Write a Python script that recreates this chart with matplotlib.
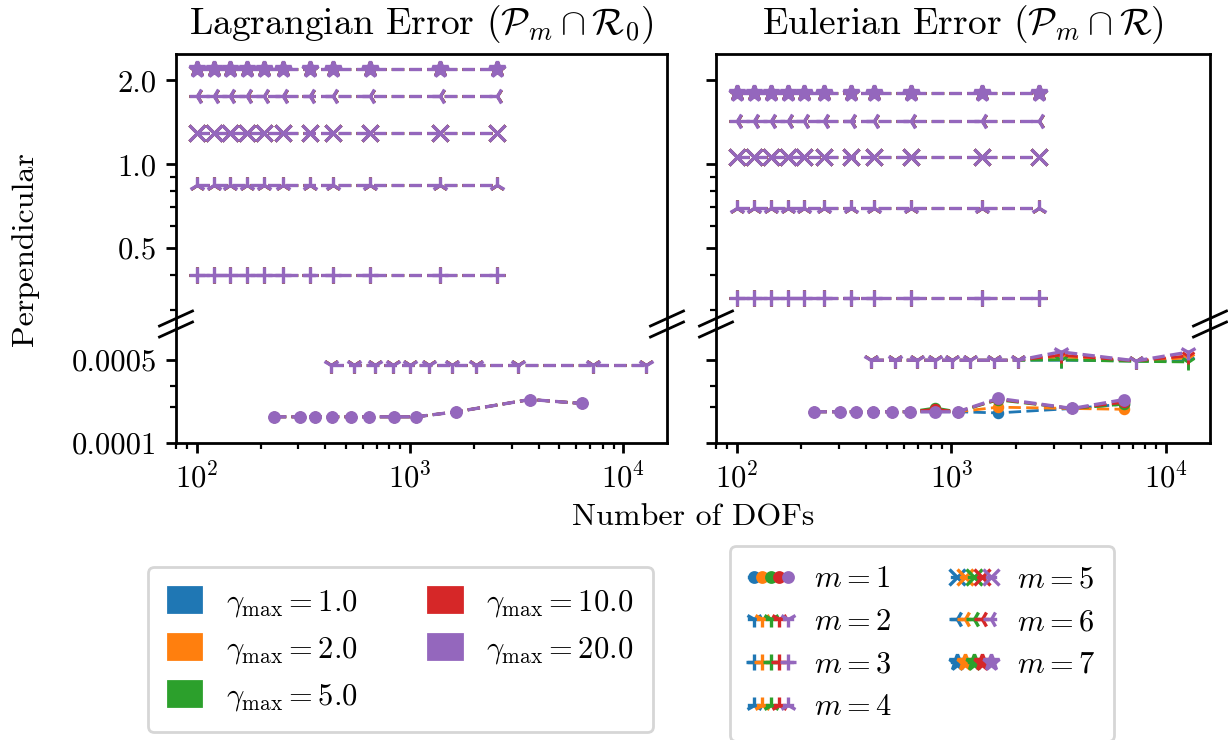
import matplotlib
matplotlib.use("Agg")
import matplotlib.pyplot as plt
from matplotlib.lines import Line2D
from matplotlib.patches import Patch
from matplotlib.legend_handler import HandlerTuple
from matplotlib.ticker import FixedLocator, FixedFormatter, NullFormatter

plt.rcParams.update({
    "font.family": "serif",
    "font.serif": ["cmr10"],
    "mathtext.fontset": "cm",
    "axes.formatter.use_mathtext": True,
    "axes.unicode_minus": False,
    "font.size": 11,
    "axes.linewidth": 1.0,
    "xtick.major.width": 1.0,
    "ytick.major.width": 1.0,
    "xtick.minor.width": 0.8,
    "ytick.minor.width": 0.8,
    "lines.scale_dashes": False,
})

# ---- data ---------------------------------------------------------------
gammas = [1.0, 2.0, 5.0, 10.0, 20.0]
gamma_colors = ["#1f77b4", "#ff7f0e", "#2ca02c", "#d62728", "#9467bd"]
m_values = [1, 2, 3, 4, 5, 6, 7]
m_markers = ["o", "1", "+", "2", "x", "3", "*"]
m_markersizes = [3.4, 6, 6, 6, 6, 6, 6]

dofs_m1 = [230, 304, 360, 432, 526, 640, 838, 1069, 1648, 3656, 6381]
dofs_m2 = [424, 545, 688, 836, 1002, 1222, 1573, 2043, 3222, 7230, 12700]
dofs_m3_to_m7 = [100, 120, 144, 173, 206, 255, 341, 437, 651, 1387, 2563]

# Lagrangian error (identical for every gamma_max)
lag_m1 = [1.66e-4, 1.66e-4, 1.66e-4, 1.66e-4, 1.66e-4, 1.66e-4, 1.66e-4,
          1.66e-4, 1.83e-4, 2.32e-4, 2.15e-4]
lag_m2 = [4.5e-4, 4.5e-4, 4.5e-4, 4.5e-4, 4.5e-4, 4.5e-4, 4.5e-4, 4.5e-4,
          4.5e-4, 4.5e-4, 4.5e-4]
lag_m3 = [0.40, 0.40, 0.40, 0.40, 0.40, 0.40, 0.40, 0.40, 0.40, 0.40, 0.40]
lag_m4 = [0.843, 0.843, 0.843, 0.843, 0.843, 0.843, 0.843, 0.843, 0.843, 0.843, 0.843]
lag_m5 = [1.30, 1.30, 1.30, 1.30, 1.30, 1.30, 1.30, 1.30, 1.30, 1.30, 1.30]
lag_m6 = [1.76, 1.76, 1.76, 1.76, 1.76, 1.76, 1.76, 1.76, 1.76, 1.76, 1.76]
lag_m7 = [2.20, 2.20, 2.20, 2.20, 2.20, 2.20, 2.20, 2.20, 2.20, 2.20, 2.20]

# Eulerian error, one row per gamma_max for the low-order cases
eul_m1 = [
    [1.83e-4, 1.83e-4, 1.83e-4, 1.83e-4, 1.83e-4, 1.83e-4, 1.83e-4, 1.83e-4, 1.79e-4, 1.95e-4, 2.12e-4],
    [1.83e-4, 1.83e-4, 1.83e-4, 1.83e-4, 1.83e-4, 1.83e-4, 1.85e-4, 1.83e-4, 2.00e-4, 1.95e-4, 1.92e-4],
    [1.83e-4, 1.83e-4, 1.83e-4, 1.83e-4, 1.83e-4, 1.83e-4, 1.97e-4, 1.83e-4, 2.30e-4, 1.95e-4, 2.12e-4],
    [1.83e-4, 1.83e-4, 1.83e-4, 1.83e-4, 1.83e-4, 1.83e-4, 1.92e-4, 1.83e-4, 2.33e-4, 1.95e-4, 2.20e-4],
    [1.83e-4, 1.83e-4, 1.83e-4, 1.83e-4, 1.83e-4, 1.83e-4, 1.83e-4, 1.83e-4, 2.37e-4, 1.95e-4, 2.32e-4],
]
eul_m2 = [
    [4.96e-4, 4.96e-4, 4.96e-4, 4.96e-4, 4.96e-4, 4.96e-4, 4.96e-4, 4.96e-4, 4.96e-4, 4.90e-4, 4.90e-4],
    [4.96e-4, 4.96e-4, 4.96e-4, 4.96e-4, 4.96e-4, 4.96e-4, 4.96e-4, 4.96e-4, 5.30e-4, 4.90e-4, 5.20e-4],
    [4.96e-4, 4.96e-4, 4.96e-4, 4.96e-4, 4.96e-4, 4.96e-4, 4.96e-4, 4.96e-4, 5.00e-4, 4.85e-4, 4.80e-4],
    [4.96e-4, 4.96e-4, 4.96e-4, 4.96e-4, 4.96e-4, 4.96e-4, 4.96e-4, 4.96e-4, 5.47e-4, 4.90e-4, 5.40e-4],
    [4.96e-4, 4.96e-4, 4.96e-4, 4.96e-4, 4.96e-4, 4.96e-4, 4.96e-4, 4.96e-4, 5.83e-4, 4.90e-4, 5.80e-4],
]
eul_m3 = [0.33, 0.33, 0.33, 0.33, 0.33, 0.33, 0.33, 0.33, 0.33, 0.33, 0.33]
eul_m4 = [0.695, 0.695, 0.695, 0.695, 0.695, 0.695, 0.695, 0.695, 0.695, 0.695, 0.695]
eul_m5 = [1.06, 1.06, 1.06, 1.06, 1.06, 1.06, 1.06, 1.06, 1.06, 1.06, 1.06]
eul_m6 = [1.43, 1.43, 1.43, 1.43, 1.43, 1.43, 1.43, 1.43, 1.43, 1.43, 1.43]
eul_m7 = [1.81, 1.81, 1.81, 1.81, 1.81, 1.81, 1.81, 1.81, 1.81, 1.81, 1.81]

panel_titles = [r"Lagrangian Error ($\mathcal{P}_m \cap \mathcal{R}_0$)",
                r"Eulerian Error ($\mathcal{P}_m \cap \mathcal{R}$)"]
top_ticks = [0.5, 1.0, 2.0]
top_ticklabels = ["0.5", "1.0", "2.0"]
bottom_ticks = [1e-4, 5e-4]
bottom_ticklabels = ["0.0001", "0.0005"]

# ---- figure -------------------------------------------------------------
W, H = 1228, 740
fig = plt.figure(figsize=(W / 200, H / 200), dpi=200)


def axes_px(x0, y0, x1, y1):
    return fig.add_axes([x0 / W, 1 - y1 / H, (x1 - x0) / W, (y1 - y0) / H])


y_top, y_join, y_bot = 54, 324, 443
columns = [(176, 667), (716, 1210)]

lag_high = [lag_m3, lag_m4, lag_m5, lag_m6, lag_m7]
eul_high = [eul_m3, eul_m4, eul_m5, eul_m6, eul_m7]

n_g = len(gammas)
dash = (0, (4.44, 1.92))  # fixed dash pattern in points, same for every width


def style(gi, k):
    # the last (largest gamma) series sits on top at full weight; the ones
    # underneath are a touch lighter so coincident curves stay clean
    top = gi == n_g - 1
    lw = 1.2 if top else 1.0
    scale = 1.0 if top else 0.92
    return dict(linestyle=dash, linewidth=lw, markeredgewidth=lw,
                marker=m_markers[k], ms=m_markersizes[k] * scale,
                color=gamma_colors[gi], zorder=2 + gi * 0.1)


for col, (x0, x1) in enumerate(columns):
    ax_t = axes_px(x0, y_top, x1, y_join)
    ax_b = axes_px(x0, y_join, x1, y_bot)

    for gi in range(n_g):
        if col == 0:
            s1, s2, high = lag_m1, lag_m2, lag_high
        else:
            s1, s2, high = eul_m1[gi], eul_m2[gi], eul_high
        ax_b.plot(dofs_m1, s1, **style(gi, 0))
        ax_b.plot(dofs_m2, s2, **style(gi, 1))
        for k, series in enumerate(high):
            ax_t.plot(dofs_m3_to_m7, series, **style(gi, k + 2))

    for ax in (ax_t, ax_b):
        ax.set_xscale("log")
        ax.set_yscale("log")
        ax.set_xlim(80, 16000)

    ax_t.set_ylim(0.267, 2.49)
    ax_b.set_ylim(1e-4, 1e-3)

    ax_t.spines["bottom"].set_visible(False)
    ax_b.spines["top"].set_visible(False)
    ax_t.tick_params(axis="x", which="both", bottom=False, top=False,
                     labelbottom=False)
    ax_b.tick_params(axis="x", which="both", top=False)

    ax_t.yaxis.set_major_locator(FixedLocator(top_ticks))
    ax_t.yaxis.set_minor_locator(FixedLocator([0.3, 0.4, 0.6, 0.7, 0.8, 0.9]))
    ax_b.yaxis.set_major_locator(FixedLocator(bottom_ticks))
    ax_b.yaxis.set_minor_locator(FixedLocator([2e-4, 3e-4]))
    for ax in (ax_t, ax_b):
        ax.yaxis.set_minor_formatter(NullFormatter())
    if col == 0:
        ax_t.yaxis.set_major_formatter(FixedFormatter(top_ticklabels))
        ax_b.yaxis.set_major_formatter(FixedFormatter(bottom_ticklabels))
    else:
        ax_t.yaxis.set_major_formatter(NullFormatter())
        ax_b.yaxis.set_major_formatter(NullFormatter())

    ax_t.set_title(panel_titles[col], fontsize=13.5, pad=7)

    # broken-axis marks on both vertical spines
    for xc in (x0, x1):
        for dy in (-5.5, 5.5):
            yc = y_join + dy
            fig.add_artist(Line2D([(xc - 16.5) / W, (xc + 16.5) / W],
                                  [1 - (yc + 7.5) / H, 1 - (yc - 7.5) / H],
                                  transform=fig.transFigure, color="k",
                                  linewidth=1.0, clip_on=False))

fig.text(25 / W, 1 - 249 / H, "Perpendicular", rotation=90, ha="center",
         va="center", fontsize=11.5)
fig.text(693 / W, 1 - 518 / H, "Number of DOFs", ha="center", va="center",
         fontsize=11.5)

gamma_handles = [Patch(color=c) for c in gamma_colors]
gamma_labels = [r"$\gamma_{\max} = %.1f$" % g for g in gammas]
fig.legend(gamma_handles, gamma_labels, ncol=2, loc="upper center",
           bbox_to_anchor=(400.5 / W, 1 - 567 / H), borderaxespad=0,
           fontsize=11, borderpad=0.65, handlelength=1.1, handleheight=0.9,
           columnspacing=2.3)

m_handles = []
for k in range(len(m_values)):
    m_handles.append(tuple(
        Line2D([], [], linestyle="-", linewidth=1.2, markeredgewidth=1.2,
               marker=m_markers[k], ms=m_markersizes[k], color=c)
        for c in gamma_colors))
m_labels = [r"$m = %d$" % m for m in m_values]
fig.legend(m_handles, m_labels, ncol=2, loc="upper center",
           bbox_to_anchor=(922 / W, 1 - 546 / H), borderaxespad=0,
           fontsize=11, borderpad=0.65, handlelength=1.4, handletextpad=0.7,
           handler_map={tuple: HandlerTuple(ndivide=None, pad=0)})

fig.savefig("out.png", dpi=200)
